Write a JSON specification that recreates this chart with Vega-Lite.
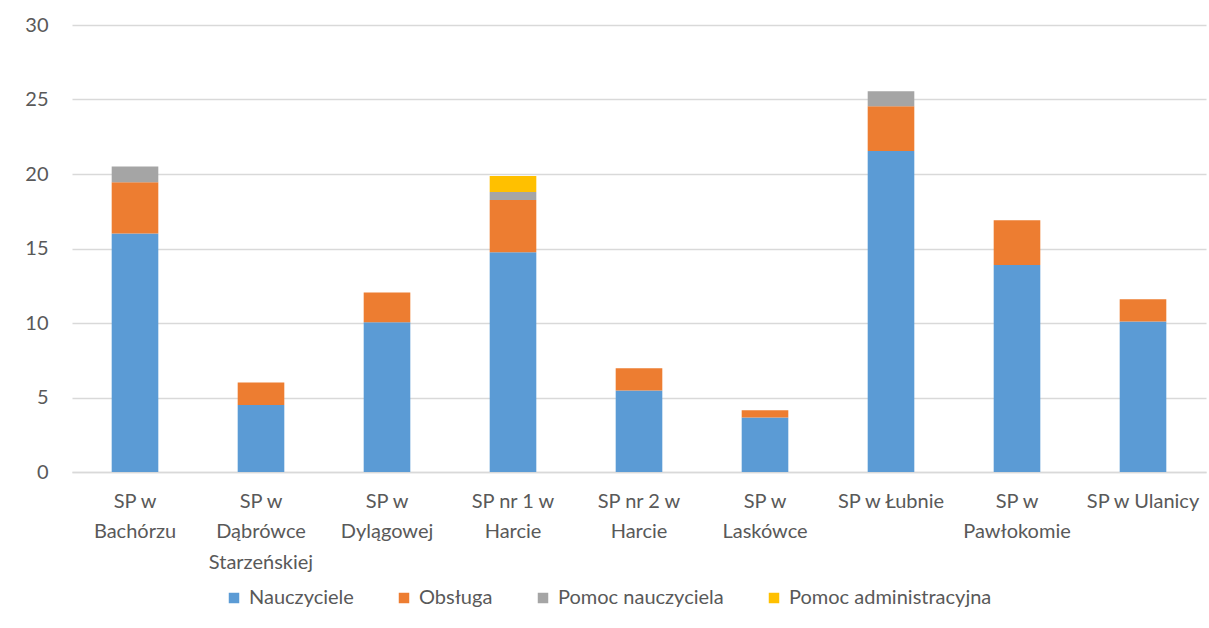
{
  "$schema": "https://vega.github.io/schema/vega-lite/v6.json",
  "autosize": {"type": "none"},
  "width": 1134,
  "height": 447,
  "padding": {"left": 72, "top": 25, "right": 3, "bottom": 156},
  "background": "white",
  "config": {
    "font": "Lato",
    "view": {"stroke": null}
  },
  "data": {
    "values": [
      {"szkola": "SP w Bachórzu", "kategoria": "Nauczyciele", "nr": 1, "wartosc": 16},
      {"szkola": "SP w Bachórzu", "kategoria": "Obsługa", "nr": 2, "wartosc": 3.45},
      {"szkola": "SP w Bachórzu", "kategoria": "Pomoc nauczyciela", "nr": 3, "wartosc": 1.05},
      {"szkola": "SP w Dąbrówce Starzeńskiej", "kategoria": "Nauczyciele", "nr": 1, "wartosc": 4.5},
      {"szkola": "SP w Dąbrówce Starzeńskiej", "kategoria": "Obsługa", "nr": 2, "wartosc": 1.5},
      {"szkola": "SP w Dylągowej", "kategoria": "Nauczyciele", "nr": 1, "wartosc": 10.05},
      {"szkola": "SP w Dylągowej", "kategoria": "Obsługa", "nr": 2, "wartosc": 2},
      {"szkola": "SP nr 1 w Harcie", "kategoria": "Nauczyciele", "nr": 1, "wartosc": 14.75},
      {"szkola": "SP nr 1 w Harcie", "kategoria": "Obsługa", "nr": 2, "wartosc": 3.5},
      {"szkola": "SP nr 1 w Harcie", "kategoria": "Pomoc nauczyciela", "nr": 3, "wartosc": 0.55},
      {"szkola": "SP nr 1 w Harcie", "kategoria": "Pomoc administracyjna", "nr": 4, "wartosc": 1.07},
      {"szkola": "SP nr 2 w Harcie", "kategoria": "Nauczyciele", "nr": 1, "wartosc": 5.47},
      {"szkola": "SP nr 2 w Harcie", "kategoria": "Obsługa", "nr": 2, "wartosc": 1.5},
      {"szkola": "SP w Laskówce", "kategoria": "Nauczyciele", "nr": 1, "wartosc": 3.65},
      {"szkola": "SP w Laskówce", "kategoria": "Obsługa", "nr": 2, "wartosc": 0.5},
      {"szkola": "SP w Łubnie", "kategoria": "Nauczyciele", "nr": 1, "wartosc": 21.55},
      {"szkola": "SP w Łubnie", "kategoria": "Obsługa", "nr": 2, "wartosc": 3},
      {"szkola": "SP w Łubnie", "kategoria": "Pomoc nauczyciela", "nr": 3, "wartosc": 1},
      {"szkola": "SP w Pawłokomie", "kategoria": "Nauczyciele", "nr": 1, "wartosc": 13.9},
      {"szkola": "SP w Pawłokomie", "kategoria": "Obsługa", "nr": 2, "wartosc": 3},
      {"szkola": "SP w Ulanicy", "kategoria": "Nauczyciele", "nr": 1, "wartosc": 10.1},
      {"szkola": "SP w Ulanicy", "kategoria": "Obsługa", "nr": 2, "wartosc": 1.5}
    ]
  },
  "mark": {"type": "bar"},
  "encoding": {
    "x": {
      "field": "szkola",
      "type": "nominal",
      "sort": null,
      "scale": {"paddingInner": 0.63, "paddingOuter": 0.315},
      "axis": {
        "title": null,
        "labelAngle": 0,
        "labelFontSize": 20,
        "labelColor": "#595959",
        "labelLineHeight": 30.5,
        "labelPadding": 19,
        "labelBaseline": "top",
        "labelLimit": 300,
        "ticks": false,
        "domainColor": "#D9D9D9",
        "domainWidth": 1.5,
        "labelExpr": "datum.value == 'SP w Łubnie' || datum.value == 'SP w Ulanicy' ? datum.value : split(replace(replace(datum.value, ' w ', ' w|'), 'Dąbrówce ', 'Dąbrówce|'), '|')"
      }
    },
    "y": {
      "field": "wartosc",
      "type": "quantitative",
      "stack": "zero",
      "scale": {"domain": [0, 30]},
      "axis": {
        "title": null,
        "values": [0, 5, 10, 15, 20, 25, 30],
        "labelFontSize": 20,
        "labelColor": "#595959",
        "labelPadding": 24,
        "ticks": false,
        "domain": false,
        "gridColor": "#D9D9D9",
        "gridWidth": 1.5
      }
    },
    "order": {"field": "nr", "type": "quantitative", "sort": "ascending"},
    "color": {
      "field": "kategoria",
      "type": "nominal",
      "sort": ["Nauczyciele", "Obsługa", "Pomoc nauczyciela", "Pomoc administracyjna"],
      "scale": {
        "domain": ["Nauczyciele", "Obsługa", "Pomoc nauczyciela", "Pomoc administracyjna"],
        "range": ["#5B9BD5", "#ED7D31", "#A5A5A5", "#FFC000"]
      },
      "legend": {
        "title": null,
        "orient": "none",
        "direction": "horizontal",
        "legendX": 152,
        "legendY": 563,
        "symbolType": "square",
        "symbolSize": 110,
        "symbolStrokeWidth": 0,
        "labelFontSize": 20,
        "labelColor": "#595959",
        "labelLimit": 400,
        "columnPadding": 40,
        "labelOffset": 5
      }
    }
  }
}
